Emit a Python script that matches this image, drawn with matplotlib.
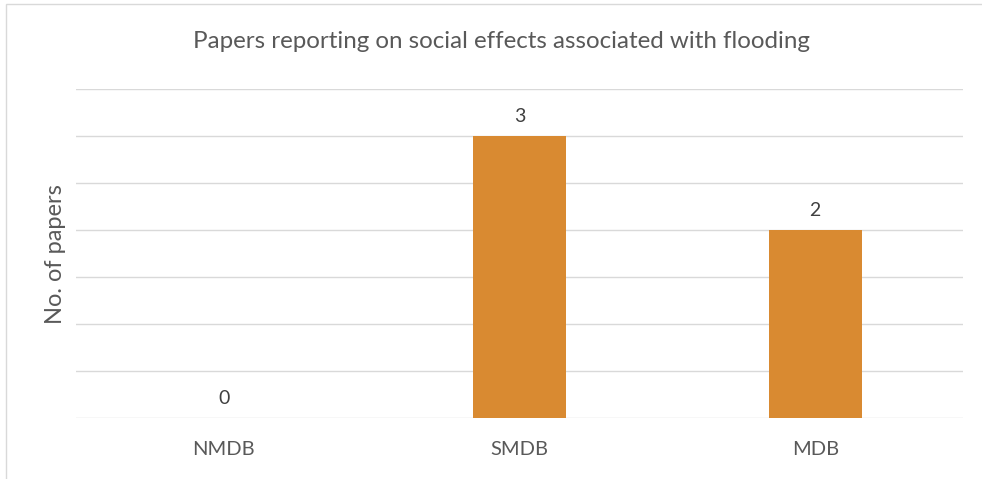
import matplotlib
matplotlib.use("Agg")
from matplotlib import pyplot as plt
from matplotlib.patches import Rectangle

categories = ["NMDB", "SMDB", "MDB"]
papers = [0, 3, 2]

title = "Papers reporting on social effects associated with flooding"
ylabel = "No. of papers"

text_color = "#595959"
grid_color = "#D9D9D9"
bar_color = "#D98A31"

plt.rcParams['font.family'] = ['Lato', 'DejaVu Sans']

fig = plt.figure(figsize=(9.82, 4.79), dpi=100)
ax = fig.add_axes([0.0774, 0.1273, 0.9033, 0.6869])

# outer chart frame, partly cut off at right and bottom
fig.patches.append(Rectangle((6 / 982, -0.1), 1.2, 1 - 4 / 479 + 0.1,
                             transform=fig.transFigure, fill=False,
                             edgecolor=grid_color, linewidth=1.0))

x = range(len(categories))
bars = ax.bar(x, papers, width=0.315, color=bar_color, zorder=3)

for xi, v in zip(x, papers):
    ax.text(xi, v + 0.12, str(v), ha='center', va='bottom',
            fontsize=14, color="#404040")

ax.set_xlim(-0.5, 2.5)
ax.set_ylim(0, 3.5)
ax.set_yticks([i * 0.5 for i in range(8)])
ax.yaxis.grid(True, color=grid_color, linewidth=1.0, zorder=0)
ax.tick_params(axis='y', left=False, labelleft=False)
ax.tick_params(axis='x', bottom=False, labelsize=14.5, labelcolor=text_color, pad=13)
ax.set_xticks(list(x))
ax.set_xticklabels(categories)
for s in ax.spines.values():
    s.set_visible(False)

fig.text(55 / 982, 1 - 254 / 479, ylabel, rotation=90, ha='center', va='center',
         fontsize=17, color=text_color)
fig.text(0.511, 1 - 42 / 479, title, ha='center', va='center',
         fontsize=17.4, color=text_color)

fig.savefig("out.png", dpi=100)
